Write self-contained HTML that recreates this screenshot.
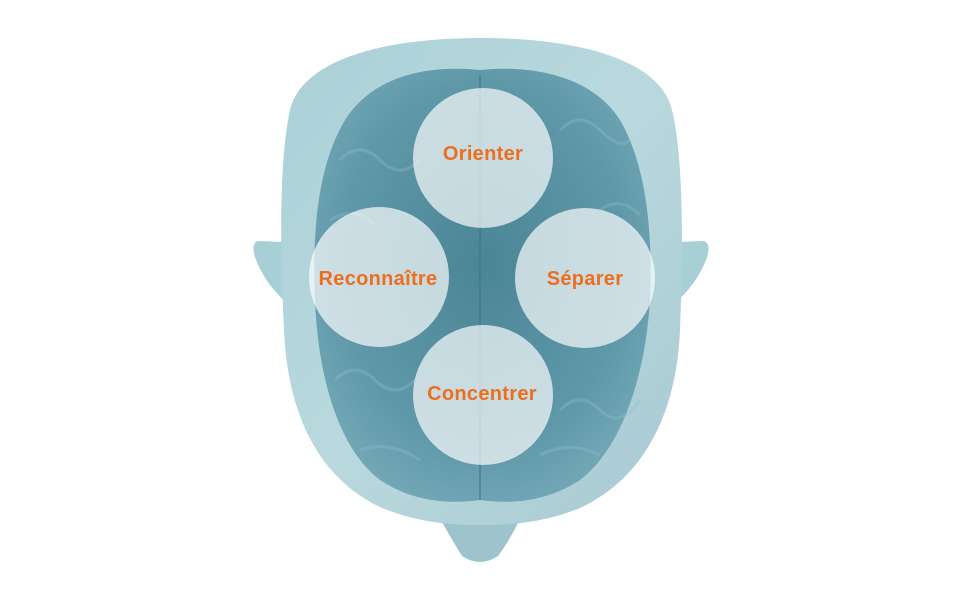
<!DOCTYPE html>
<html><head><meta charset="utf-8"><style>
html,body{margin:0;padding:0;background:#fff;width:960px;height:600px;overflow:hidden}
svg{display:block}
text{font-family:"Liberation Sans",sans-serif;font-weight:bold;font-size:20px;fill:#ee6e1f;text-anchor:middle;letter-spacing:0.3px}
</style></head><body>
<svg width="960" height="600" viewBox="0 0 960 600">
<defs>
<linearGradient id="hd" x1="0" y1="0" x2="1" y2="1">
<stop offset="0" stop-color="#a9d0d7"/><stop offset="0.5" stop-color="#b9d9de"/><stop offset="1" stop-color="#a8c9d2"/>
</linearGradient>
<radialGradient id="br" cx="0.5" cy="0.45" r="0.6">
<stop offset="0" stop-color="#4a8596"/><stop offset="0.7" stop-color="#5f98a8"/><stop offset="1" stop-color="#74a9b7"/>
</radialGradient>
</defs>
<path d="M284 242 L258 241 Q250 244 256 260 Q266 285 288 304 Z" fill="#a6cfd6"/>
<path d="M678 242 L704 241 Q712 244 706 260 Q696 285 674 304 Z" fill="#a6cfd6"/>
<path d="M438 515 Q452 540 462 556 Q480 568 498 556 Q510 540 522 515 Z" fill="#9dc3cd"/>
<path d="M481 38 C580 38 660 60 672 110 C684 160 683 250 680 330 C676 420 640 480 580 508 C545 522 515 525 481 525 C447 525 417 522 382 508 C322 480 288 420 284 330 C280 250 279 160 290 110 C302 60 382 38 481 38 Z" fill="url(#hd)"/>
<path d="M480 70 C420 64 370 80 345 120 C318 165 312 230 315 300 C318 380 340 450 380 480 C410 500 445 505 480 500 C515 505 550 500 580 480 C620 450 645 380 650 300 C653 230 646 165 620 120 C595 80 540 64 480 70 Z" fill="url(#br)"/>
<g fill="none" stroke="#8fbfcb" stroke-width="3" opacity="0.35">
<path d="M340 160 q20 -20 40 0 t40 0"/><path d="M330 220 q25 -15 45 5"/><path d="M335 380 q20 -20 40 0 t40 0"/>
<path d="M560 130 q20 -20 40 0 t30 10"/><path d="M600 210 q20 -15 40 5"/><path d="M560 410 q20 -20 40 0 t40 -10"/>
<path d="M360 450 q30 -10 60 10"/><path d="M540 455 q30 -15 60 0"/>
</g>
<path d="M480 75 L480 500" stroke="#3e7487" stroke-width="2" opacity="0.5"/>
<g fill="#ffffff" fill-opacity="0.68">
<circle cx="483" cy="158" r="70"/>
<circle cx="379" cy="277" r="70"/>
<circle cx="585" cy="278" r="70"/>
<circle cx="483" cy="395" r="70"/>
</g>
<text x="483" y="160">Orienter</text>
<text x="378" y="285">Reconnaître</text>
<text x="585" y="285">Séparer</text>
<text x="482" y="400">Concentrer</text>
</svg>
</body></html>
